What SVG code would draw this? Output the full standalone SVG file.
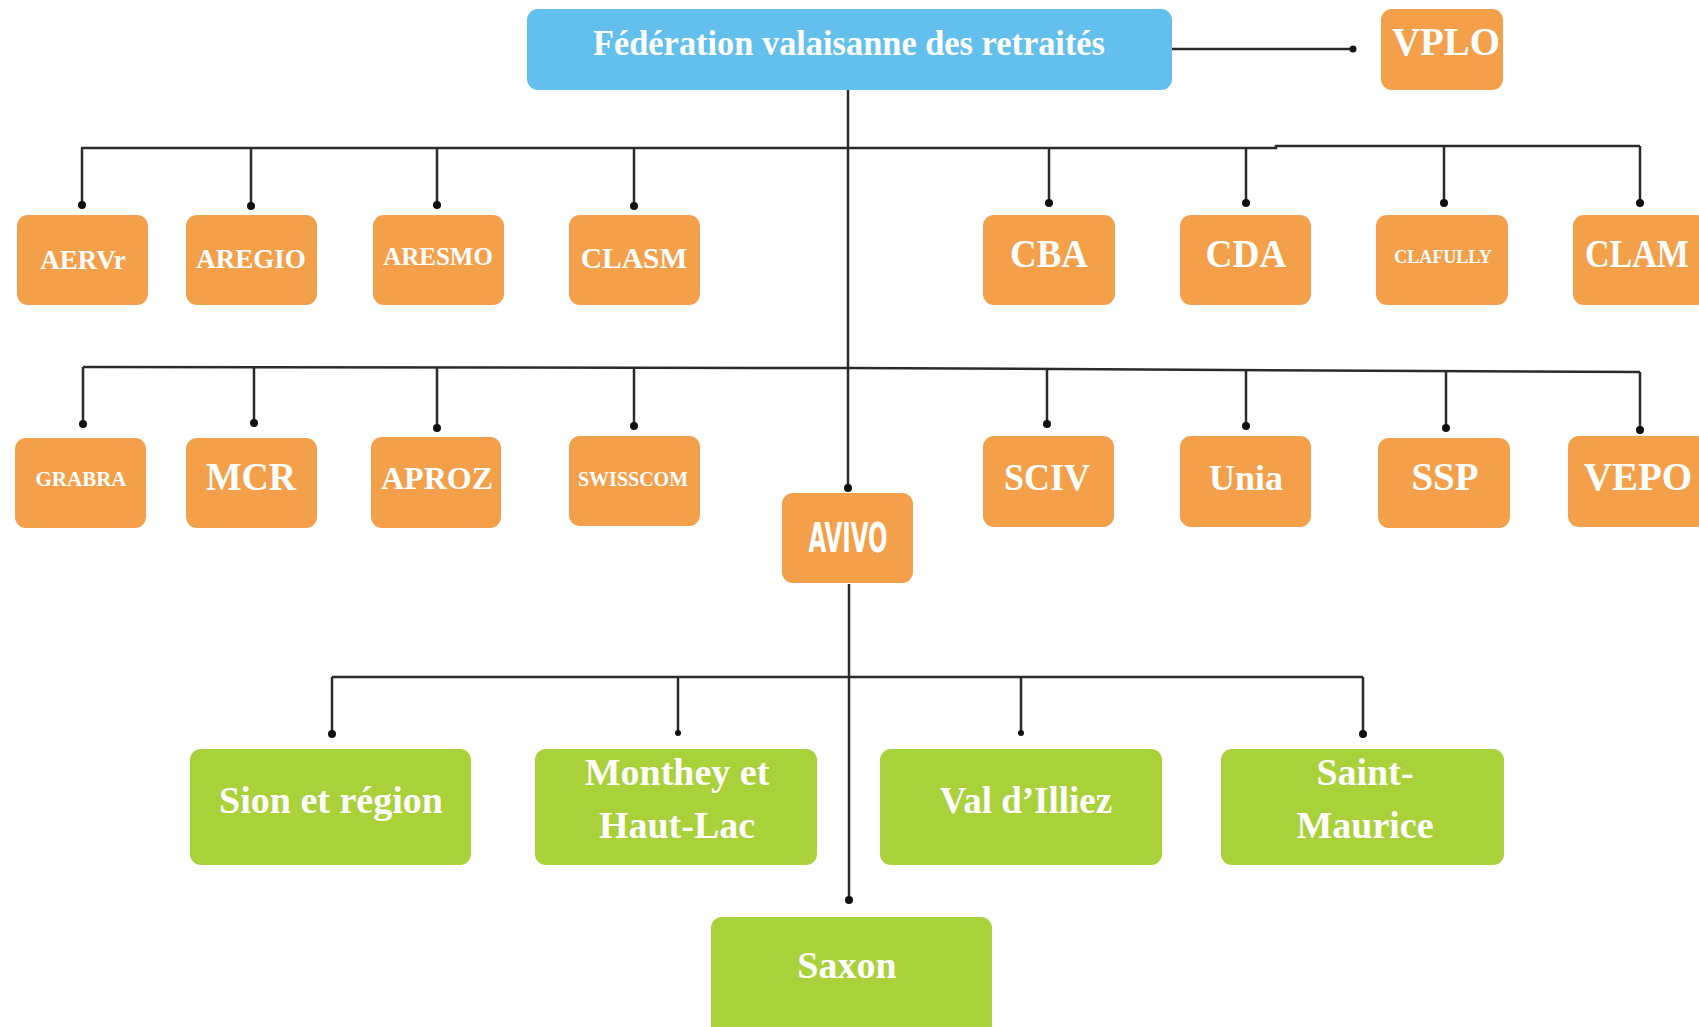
<svg xmlns="http://www.w3.org/2000/svg" width="1699" height="1027" viewBox="0 0 1699 1027">
<style>
.b{fill:#63BFEC}
.o{fill:#F4A04A}
.g{fill:#A9D13A}
.t{font-family:"Liberation Serif","Times New Roman",serif;font-weight:bold;fill:#ffffff;text-anchor:middle}
.a{font-family:"DejaVu Sans Condensed","DejaVu Sans",sans-serif;font-weight:bold;fill:#ffffff;text-anchor:middle}
.l{fill:none;stroke:#2b2b2b;stroke-width:2.5}
.d{fill:#111}
</style>
<rect width="1699" height="1027" fill="#ffffff"/>
<g id="connectors">
<path class="l" d="M1172 49 H1352"/>
<circle class="d" cx="1353" cy="49" r="3.5"/>
<path class="l" d="M848 90 V488"/>
<path class="l" d="M81 148 H1276 V146 H1640"/>
<path class="l" d="M82 148 V205 M251 148 V205 M437 148 V205 M634 148 V205 M1049 147 V204 M1246 147 V204 M1444 146 V204 M1640 146 V204"/>
<circle class="d" cx="82" cy="205" r="4"/><circle class="d" cx="251" cy="206" r="4"/><circle class="d" cx="437" cy="205" r="4"/><circle class="d" cx="634" cy="206" r="4"/>
<circle class="d" cx="1049" cy="203" r="4"/><circle class="d" cx="1246" cy="203" r="4"/><circle class="d" cx="1444" cy="203" r="4"/><circle class="d" cx="1640" cy="203" r="4"/>
<path class="l" d="M83 367 L849 368 L1640 372"/>
<path class="l" d="M83 367 V424 M254 367 V423 M437 367 V428 M634 368 V426 M1047 369 V424 M1246 369 V426 M1446 370 V428 M1640 372 V430"/>
<circle class="d" cx="83" cy="424" r="4"/><circle class="d" cx="254" cy="423" r="4"/><circle class="d" cx="437" cy="428" r="4"/><circle class="d" cx="634" cy="426" r="4"/>
<circle class="d" cx="1047" cy="424" r="4"/><circle class="d" cx="1246" cy="426" r="4"/><circle class="d" cx="1446" cy="428" r="4"/><circle class="d" cx="1640" cy="430" r="4"/>
<circle class="d" cx="848" cy="488" r="4"/>
<path class="l" d="M849 584 V900"/>
<circle class="d" cx="849" cy="900" r="4"/>
<path class="l" d="M332 677 H1363"/>
<path class="l" d="M332 677 V734 M678 677 V733 M1021 677 V733 M1363 677 V734"/>
<circle class="d" cx="332" cy="734" r="4"/><circle class="d" cx="678" cy="733" r="3"/><circle class="d" cx="1021" cy="733" r="3"/><circle class="d" cx="1363" cy="734" r="4"/>
</g>
<g id="federation"><rect class="b" x="527" y="9" width="645" height="81" rx="11"/><text class="t" x="849" y="55" font-size="35" textLength="512" lengthAdjust="spacingAndGlyphs">Fédération valaisanne des retraités</text></g>
<g id="vplo"><rect class="o" x="1381" y="9" width="122" height="81" rx="11"/><text class="t" x="1446" y="55" font-size="41" textLength="108" lengthAdjust="spacingAndGlyphs">VPLO</text></g>
<g id="aervr"><rect class="o" x="17" y="215" width="131" height="90" rx="11"/><text class="t" x="83" y="269" font-size="27">AERVr</text></g>
<g id="aregio"><rect class="o" x="186" y="215" width="131" height="90" rx="11"/><text class="t" x="251" y="268" font-size="27">AREGIO</text></g>
<g id="aresmo"><rect class="o" x="373" y="215" width="131" height="90" rx="11"/><text class="t" x="438" y="265" font-size="25">ARESMO</text></g>
<g id="clasm"><rect class="o" x="569" y="215" width="131" height="90" rx="11"/><text class="t" x="634" y="268" font-size="29.5">CLASM</text></g>
<g id="cba"><rect class="o" x="983" y="215" width="132" height="90" rx="11"/><text class="t" x="1049" y="267" font-size="40" textLength="78" lengthAdjust="spacingAndGlyphs">CBA</text></g>
<g id="cda"><rect class="o" x="1180" y="215" width="131" height="90" rx="11"/><text class="t" x="1246" y="267" font-size="40" textLength="81" lengthAdjust="spacingAndGlyphs">CDA</text></g>
<g id="clafully"><rect class="o" x="1376" y="215" width="132" height="90" rx="11"/><text class="t" x="1443" y="263" font-size="18">CLAFULLY</text></g>
<g id="clam"><rect class="o" x="1573" y="215" width="135" height="90" rx="11"/><text class="t" x="1637" y="267" font-size="39" textLength="104" lengthAdjust="spacingAndGlyphs">CLAM</text></g>
<g id="grabra"><rect class="o" x="15" y="438" width="131" height="90" rx="11"/><text class="t" x="81" y="486" font-size="21">GRABRA</text></g>
<g id="mcr"><rect class="o" x="186" y="438" width="131" height="90" rx="11"/><text class="t" x="251" y="490" font-size="40" textLength="90" lengthAdjust="spacingAndGlyphs">MCR</text></g>
<g id="aproz"><rect class="o" x="371" y="437" width="130" height="91" rx="11"/><text class="t" x="437" y="489" font-size="32">APROZ</text></g>
<g id="swisscom"><rect class="o" x="569" y="436" width="131" height="90" rx="11"/><text class="t" x="633" y="486" font-size="20">SWISSCOM</text></g>
<g id="sciv"><rect class="o" x="983" y="436" width="131" height="91" rx="11"/><text class="t" x="1047" y="490" font-size="38" textLength="86" lengthAdjust="spacingAndGlyphs">SCIV</text></g>
<g id="unia"><rect class="o" x="1180" y="436" width="131" height="91" rx="11"/><text class="t" x="1246" y="490" font-size="36">Unia</text></g>
<g id="ssp"><rect class="o" x="1378" y="438" width="132" height="90" rx="11"/><text class="t" x="1445" y="490" font-size="39">SSP</text></g>
<g id="vepo"><rect class="o" x="1568" y="436" width="140" height="91" rx="11"/><text class="t" x="1638" y="490" font-size="39">VEPO</text></g>
<g id="avivo"><rect class="o" x="782" y="493" width="131" height="90" rx="11"/><text class="a" x="848" y="552" font-size="40" textLength="79" lengthAdjust="spacingAndGlyphs">AVIVO</text></g>
<g id="sion"><rect class="g" x="190" y="749" width="281" height="116" rx="11"/><text class="t" x="331" y="813" font-size="38">Sion et région</text></g>
<g id="monthey"><rect class="g" x="535" y="749" width="282" height="116" rx="11"/><text class="t" x="677" y="785" font-size="38">Monthey et</text><text class="t" x="677" y="838" font-size="38">Haut-Lac</text></g>
<g id="valdilliez"><rect class="g" x="880" y="749" width="282" height="116" rx="11"/><text class="t" x="1026" y="813" font-size="37">Val d’Illiez</text></g>
<g id="saintmaurice"><rect class="g" x="1221" y="749" width="283" height="116" rx="11"/><text class="t" x="1365" y="785" font-size="38">Saint-</text><text class="t" x="1365" y="838" font-size="38">Maurice</text></g>
<g id="saxon"><rect class="g" x="711" y="917" width="281" height="125" rx="11"/><text class="t" x="847" y="978" font-size="38">Saxon</text></g>
</svg>
